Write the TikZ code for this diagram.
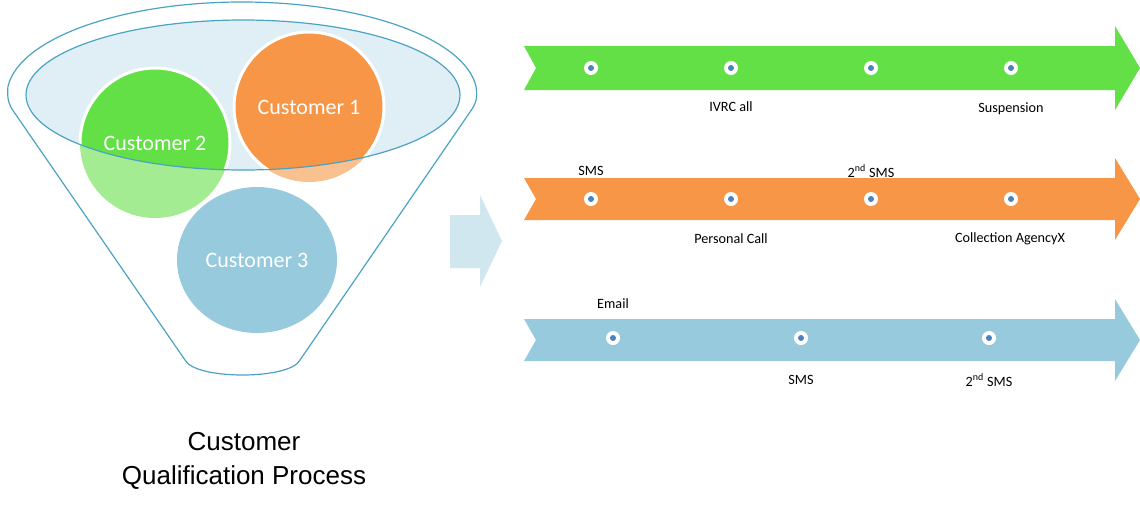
\documentclass[tikz,border=0pt]{standalone}
\usepackage{fontspec}
\setmainfont{Carlito}
\newfontfamily\arialf{Liberation Sans}
\begin{document}
\begin{tikzpicture}[x=1pt,y=-1pt,
  lbl/.style={font=\fontsize{14.2}{16}\selectfont},
  cust/.style={font=\fontsize{22}{27}\selectfont,text=white}]
\definecolor{fgreen}{HTML}{62E046}
\definecolor{lgreen}{HTML}{A4EC91}
\definecolor{forange}{HTML}{F79646}
\definecolor{lorange}{HTML}{F9C090}
\definecolor{fblue}{HTML}{96CADC}
\definecolor{rim}{HTML}{4BA3C3}
\definecolor{dotc}{HTML}{4F81BD}
\tikzset{dot/.style={circle,fill=white,minimum size=14pt,inner sep=0pt,path picture={\fill[dotc] (path picture bounding box.center) circle (3pt);}}}
\useasboundingbox (0,0) rectangle (1140,504);
% funnel
\draw[rim,line width=1.2pt] (242,95) ++(185:235 and 93) arc[start angle=185,end angle=355,x radius=235,y radius=93]
  .. controls (478,100) and (475,105) .. (470,112)
  -- (300,360)
  .. controls (290,380) and (195,380) .. (185,360) -- (14,112)
  .. controls (9,105) and (7,100) .. cycle;
\fill[fblue!30] (243,95) ellipse[x radius=217,y radius=75];
\fill[lgreen] (155,143) circle (75);
\fill[lorange] (309,107) circle (75);
\begin{scope}
\clip (243,95) ellipse[x radius=217,y radius=75];
\fill[fblue!30] (243,95) ellipse[x radius=217,y radius=75];
\draw[white,line width=3pt,fill=fgreen] (155,143) circle (75);
\draw[white,line width=3pt,fill=forange] (309,107) circle (75);
\end{scope}
\fill[fblue] (257,260) ellipse[x radius=80,y radius=73];
\draw[rim,line width=1.2pt] (243,95) ellipse[x radius=217,y radius=75];
\node[cust] (c1) at (309,107) {Customer 1};
\node[cust] (c2) at (155,143) {Customer 2};
\node[cust] (c3) at (257,260) {Customer 3};
\node[font=\arialf\fontsize{26}{30}\selectfont,align=center] (t) at (244,461) {Customer\\[4pt]Qualification Process};
% big arrow
\fill[fblue!45] (450,215) -- (480,215) -- (480,195) -- (502,241) -- (480,287) -- (480,268) -- (450,268) -- cycle;
% timelines
\foreach \c/\y/\h in {fgreen/68/22, forange/199/21, fblue/340/21}{
  \fill[\c] (524,\y-\h) -- (1115,\y-\h) -- (1115,\y-\h-20) -- (1140,\y) -- (1115,\y+\h+20) -- (1115,\y+\h) -- (524,\y+\h) -- (536,\y) -- cycle;}
\foreach \x/\n in {591/a,731/b,871/c,1011/d}{
  \node[dot] (g\n) at (\x,68) {};
  \node[dot] (o\n) at (\x,199) {};}
\node[dot] (ba) at (613,338) {};
\node[dot] (bb) at (801,338) {};
\node[dot] (bc) at (989,338) {};
\node[lbl] at (731,107) {IVRC all};
\node[lbl] at (1011,109) {Suspension};
\node[lbl] at (591,171) {SMS};
\node[lbl] at (871,171) {2\textsuperscript{nd} SMS};
\node[lbl] at (731,239) {Personal Call};
\node[lbl] at (1010,239) {Collection AgencyX};
\node[lbl] at (613,304) {Email};
\node[lbl] at (801,380) {SMS};
\node[lbl] at (989,380) {2\textsuperscript{nd} SMS};
\end{tikzpicture}
\end{document}
